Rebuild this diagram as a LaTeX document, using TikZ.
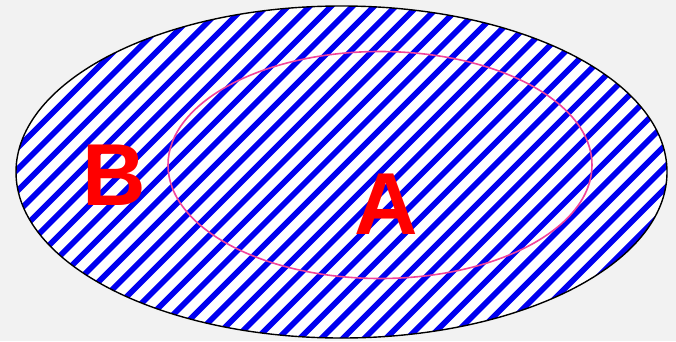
\documentclass[tikz,border=0pt]{standalone}
\usepackage{fontspec}
\setmainfont{Liberation Sans}
\definecolor{bg}{HTML}{F2F2F2}
\definecolor{stripe}{HTML}{0000F0}
\definecolor{pinkline}{HTML}{F0449C}
\begin{document}
\begin{tikzpicture}[x=1pt,y=1pt,
  outerell/.style={draw=black,line width=1.4pt},
  innerell/.style={draw=pinkline,line width=1.6pt},
  stripeline/.style={stripe,line width=5.6pt},
  lab/.style={text=red,font=\fontsize{88}{88}\selectfont\bfseries,inner sep=0pt}]
\fill[bg] (0,0) rectangle (676,341);
\useasboundingbox (0,0) rectangle (676,341);
\coordinate (oc) at (341.5,169);
\fill[white] (oc) ellipse [x radius=325.5, y radius=166];
\begin{scope}
\clip (oc) ellipse [x radius=325.5, y radius=166];
\foreach \k in {-16,...,33} {
  \draw[stripeline] ({-3.6+21.5*\k},0) -- ++(400,400);
}
\end{scope}
\draw[outerell] (oc) ellipse [x radius=325.5, y radius=166];
\coordinate (ic) at (380,176);
\draw[innerell] (ic) ellipse [x radius=212, y radius=113.5];
\node[lab] (B) at (114,166) {B};
\node[lab] (A) at (386,137) {A};
\end{tikzpicture}
\end{document}
